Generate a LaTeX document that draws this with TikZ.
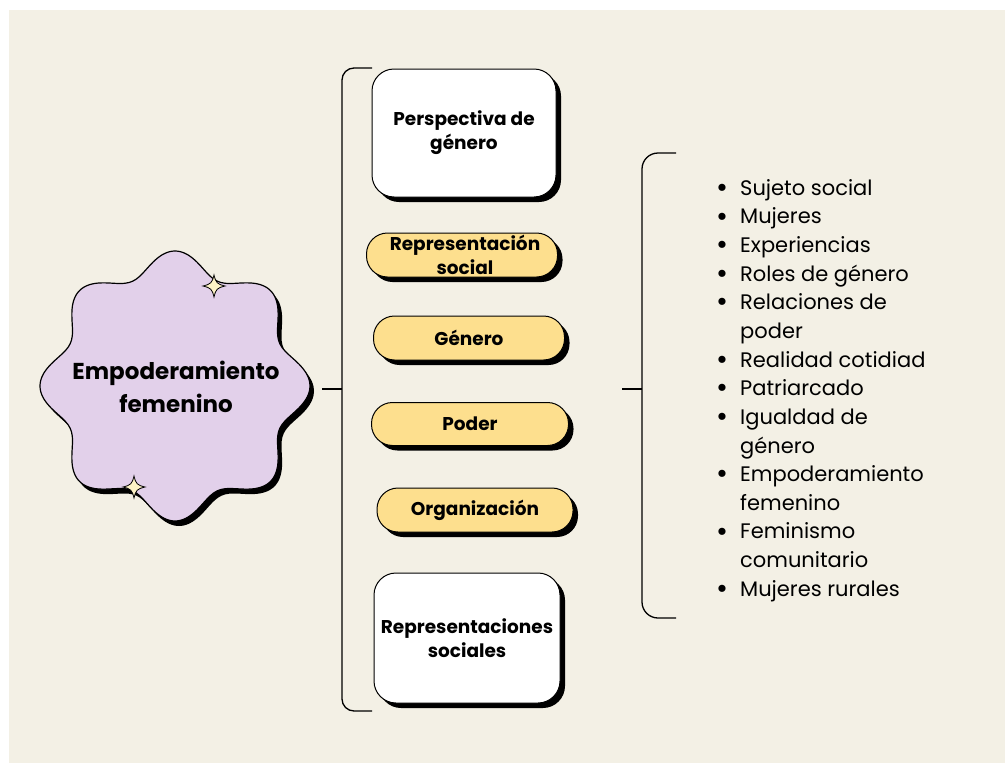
\documentclass[tikz,border=0pt]{standalone}
\usepackage{fontspec}
\setmainfont{Poppins}
\usetikzlibrary{shadows}
\definecolor{bg}{HTML}{F3F0E5}
\definecolor{lilac}{HTML}{E2D0EA}
\definecolor{gold}{HTML}{FDDF8E}
\definecolor{spark}{HTML}{FDF3C6}
\tikzset{
  box/.style={draw=black, line width=1pt, rounded corners=22pt, align=center,
    font=\fontsize{18.5}{24}\selectfont\bfseries, inner sep=0pt,
    drop shadow={shadow xshift=5pt, shadow yshift=-5pt, fill=black, opacity=1}},
  whitebox/.style={box, fill=white},
  pill/.style={box, fill=gold, rounded corners=21pt},
  brace/.style={line width=1.3pt, rounded corners=12pt},
  sparkle/.style={fill=spark, draw=black, line width=0.8pt}
}
\newcommand{\bul}{\makebox[24pt][l]{\raisebox{-2.2pt}{\fontsize{29}{28}\selectfont •}}}
\begin{document}
\begin{tikzpicture}[x=1pt,y=-1pt]
\useasboundingbox (0,0) rectangle (1005,763);
\fill[white] (0,0) rectangle (1005,763);
\fill[bg] (9,10) rectangle (1005,763);

% wavy star
\fill[black] plot[smooth, domain=0:360, samples=181, variable=\t]
  ({179+(124+11*cos(8*\t))*cos(\t)},{391+(124+11*cos(8*\t))*sin(\t)}) -- cycle;
\draw[fill=lilac, line width=1.2pt] plot[smooth, domain=0:360, samples=181, variable=\t]
  ({175+(124+11*cos(8*\t))*cos(\t)},{386+(124+11*cos(8*\t))*sin(\t)}) -- cycle;
\node[font=\fontsize{23}{33}\selectfont\bfseries, align=center] (center) at (176,387)
  {Empoderamiento\\femenino};

% sparkles
\draw[sparkle, shift={(214,286)}] (0,-11) .. controls (2,-3) and (3,-2) .. (11,0)
  .. controls (3,2) and (2,3) .. (0,11) .. controls (-2,3) and (-3,2) .. (-11,0)
  .. controls (-3,-2) and (-2,-3) .. cycle;
\draw[sparkle, shift={(134,487)}] (0,-11) .. controls (2,-3) and (3,-2) .. (11,0)
  .. controls (3,2) and (2,3) .. (0,11) .. controls (-2,3) and (-3,2) .. (-11,0)
  .. controls (-3,-2) and (-2,-3) .. cycle;

% first brace
\coordinate (t1a) at (322,389);
\coordinate (t1b) at (342,389);
\coordinate (b1top) at (372,68);
\coordinate (b1bot) at (372,711);
\draw[brace] (b1top) -- (342,68) -- (342,711) -- (b1bot);
\draw[line width=1.3pt] (t1a) -- (t1b);

% boxes
\node[whitebox, minimum width=184pt, minimum height=128pt] (b1) at (464,133) {Perspectiva de\\género};
\node[pill, minimum width=191pt, minimum height=44pt] (b2) at (462,255) {\hspace*{6pt}Representación\\\hspace*{6pt}social};
\node[pill, minimum width=191pt, minimum height=44pt] (b3) at (469,338) {Género};
\node[pill, minimum width=197pt, minimum height=43pt] (b4) at (470,424) {Poder};
\node[pill, minimum width=196pt, minimum height=44pt] (b5) at (475,510) {Organización};
\node[whitebox, minimum width=186pt, minimum height=130pt] (b6) at (467,638) {Representaciones\\sociales};

% second brace
\coordinate (t2a) at (622,389);
\coordinate (t2b) at (642,389);
\coordinate (b2top) at (676,153);
\coordinate (b2bot) at (676,618);
\draw[brace, rounded corners=16pt] (b2top) -- (642,153) -- (642,618) -- (b2bot);
\draw[line width=1.3pt] (t2a) -- (t2b);

% list
\node[anchor=north west, align=left, inner sep=0pt, font=\fontsize{21}{28.65}\selectfont] (list) at (716,179)
{\bul Sujeto social\\
\bul Mujeres\\
\bul Experiencias\\
\bul Roles de género\\
\bul Relaciones de\\
\hspace*{24pt}poder\\
\bul Realidad cotidiad\\
\bul Patriarcado\\
\bul Igualdad de\\
\hspace*{24pt}género\\
\bul Empoderamiento\\
\hspace*{24pt}femenino\\
\bul Feminismo\\
\hspace*{24pt}comunitario\\
\bul Mujeres rurales};
\end{tikzpicture}
\end{document}
